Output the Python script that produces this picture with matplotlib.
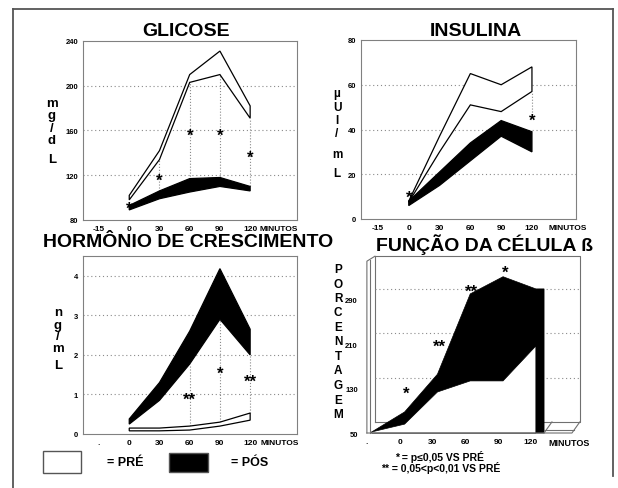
import numpy as np
import matplotlib
matplotlib.use('Agg')
import matplotlib.pyplot as plt
from matplotlib.lines import Line2D
from matplotlib.patches import Rectangle

plt.rcParams['font.family'] = ['Liberation Sans', 'DejaVu Sans']
plt.rcParams['font.weight'] = 'bold'

W, H = 618, 489

# eixo x categorico: -15, 0, 30, 60, 90, 120 min
tempos = ['-15', '0', '30', '60', '90', '120']
tempos_b = ['.', '0', '30', '60', '90', '120']
idx = np.arange(1, 6)

# GLICOSE mg/dL (0..120 min)
glic_pre_sup = [102, 142, 210, 231, 182]
glic_pre_inf = [98, 134, 203, 210, 171]
glic_pos_sup = [93, 106, 117, 118, 110]
glic_pos_inf = [89, 99, 105, 110, 106]
glic_sig = [95, 120, 160, 160, 141]
glic_sig_txt = ['*', '*', '*', '*', '*']

# INSULINA uUI/mL
ins_pre_sup = [8, 37, 65, 60, 68]
ins_pre_inf = [7.5, 30, 51, 48, 57]
ins_pos_sup = [8, 21, 34, 44, 39]
ins_pos_inf = [6, 15, 26, 37, 30]
ins_sig_t = [1, 5]
ins_sig = [12, 46.5]

# HORMONIO DE CRESCIMENTO ng/mL
gh_pre_sup = [0.15, 0.15, 0.2, 0.3, 0.53]
gh_pre_inf = [0.08, 0.08, 0.1, 0.2, 0.35]
gh_pos_sup = [0.38, 1.3, 2.6, 4.18, 2.65]
gh_pos_inf = [0.25, 0.85, 1.77, 2.9, 2.0]
gh_sig_t = [3, 4, 5]
gh_sig = [1.0, 1.67, 1.47]
gh_sig_txt = ['**', '*', '**']

# FUNCAO DA CELULA B, porcentagem (-15..120 min)
beta_pre = [52, 66, 124, 144, 144, 207]
beta_pos = [52, 88, 156, 301, 332, 310]
beta_sig_t = [1, 2, 3, 4]
beta_sig = [131, 216, 315, 350]
beta_sig_txt = ['*', '**', '**', '*']

GRID = dict(color='#8a8a8a', ls=(0, (1, 2.5)), lw=0.8)


def rect_px(l, t, r, b):
    return [l / W, 1 - b / H, (r - l) / W, (b - t) / H]


def fpx(x, y):
    return x / W, 1 - y / H


def estrela(ax, x, y, s, fs=12):
    ax.annotate(s, xy=(x, y), xytext=(0, -0.58 * fs), textcoords='offset points',
                ha='center', va='baseline', fontsize=fs, zorder=5)


def painel(rect, xlim, ylim, yticks, xlab, x_min):
    ax = fig.add_axes(rect)
    ax.set_xlim(*xlim)
    ax.set_ylim(*ylim)
    ax.set_xticks(range(6))
    ax.set_xticklabels(xlab, fontsize=6, fontweight='bold')
    ax.set_yticks(yticks)
    ax.set_yticklabels([str(t) for t in yticks], fontsize=5.5, fontweight='bold')
    ax.tick_params(length=0, pad=3.5)
    for s in ax.spines.values():
        s.set_color('#808080')
        s.set_linewidth(0.8)
    for t in yticks[1:-1]:
        ax.axhline(t, zorder=0.5, **GRID)
    ax.annotate('MINUTOS', xy=(x_min, 0), xycoords=('data', 'axes fraction'),
                xytext=(0, -3.5), textcoords='offset points', ha='left', va='top',
                fontsize=6)
    return ax


def faixa(ax, x, sup, inf, cor):
    xs = list(x) + list(x)[::-1]
    ys = list(sup) + list(inf)[::-1]
    ax.fill(xs, ys, facecolor=cor, edgecolor='black', lw=0.9, zorder=2)


fig = plt.figure(figsize=(W / 100, H / 100), dpi=100)
fig.patch.set_facecolor('white')

# moldura
for (x1, y1, x2, y2) in [(13, 10, 613, 10), (13, 10, 13, 489), (613, 10, 613, 477)]:
    a, b = fpx(x1, y1)
    c, d = fpx(x2, y2)
    fig.add_artist(Line2D([a, c], [b, d], transform=fig.transFigure, color='#555555', lw=1.3))

# ---------- GLICOSE ----------
ax1 = painel(rect_px(83, 42, 297, 221), (-0.53, 6.55), (80, 240), [80, 120, 160, 200, 240],
             tempos, 5.3)
faixa(ax1, idx, glic_pre_sup, glic_pre_inf, 'white')
faixa(ax1, idx, glic_pos_sup, glic_pos_inf, 'black')
ax1.vlines(idx[1:], np.array(glic_pos_sup[1:]), np.array(glic_pre_inf[1:]),
           colors=GRID['color'], lw=0.8, linestyles=':', zorder=1)
for t, v, s in zip(idx, glic_sig, glic_sig_txt):
    estrela(ax1, t, v, s)
fig.text(*fpx(186, 31), 'GLICOSE', ha='center', va='center', fontsize=14, fontweight='bold')
for ch, y in zip(['m', 'g', '/', 'd', 'L'], [104, 116, 129, 141, 160]):
    fig.text(*fpx(52, y), ch, ha='center', va='center', fontsize=9.5, fontweight='bold')

# ---------- INSULINA ----------
ax2 = painel(rect_px(361, 41, 576, 220), (-0.55, 6.43), (0, 80), [0, 20, 40, 60, 80],
             tempos, 5.55)
faixa(ax2, idx, ins_pre_sup, ins_pre_inf, 'white')
faixa(ax2, idx, ins_pos_sup, ins_pos_inf, 'black')
ax2.vlines([idx[-1]], [ins_sig[-1]], [ins_pre_inf[-1]], colors=GRID['color'], lw=0.8,
           linestyles=':')
for t, v in zip(ins_sig_t, ins_sig):
    estrela(ax2, t, v, '*')
fig.text(*fpx(476, 31), 'INSULINA', ha='center', va='center', fontsize=14, fontweight='bold')
for ch, y in zip(['µ', 'U', 'I', '/', 'm', 'L'], [94, 108, 121, 134, 155, 174]):
    fig.text(*fpx(337, y), ch, ha='center', va='center', fontsize=8.5, fontweight='bold')

# ---------- HORMONIO DE CRESCIMENTO ----------
ax3 = painel(rect_px(83, 257, 297, 435), (-0.53, 6.55), (0, 4.5), [0, 1, 2, 3, 4],
             tempos_b, 5.35)
ax3.axhline(4, zorder=0.5, **GRID)
faixa(ax3, idx, gh_pre_sup, gh_pre_inf, 'white')
faixa(ax3, idx, gh_pos_sup, gh_pos_inf, 'black')
ax3.vlines(idx[2:], np.array(gh_pre_sup[2:]), np.array(gh_pos_inf[2:]),
           colors=GRID['color'], lw=0.8, linestyles=':', zorder=1)
for t, v, s in zip(gh_sig_t, gh_sig, gh_sig_txt):
    estrela(ax3, t, v, s)
fig.text(*fpx(188, 243), 'HORMÔNIO DE CRESCIMENTO', ha='center', va='center',
         fontsize=14, fontweight='bold')
for ch, y in zip(['n', 'g', '/', 'm', 'L'], [313, 326, 337, 349, 366]):
    fig.text(*fpx(58, y), ch, ha='center', va='center', fontsize=9.5, fontweight='bold')

# legenda
for (l, t, r, b, cor) in [(43, 452, 81, 474, 'white'), (169, 454, 208, 473, 'black')]:
    x0, y0 = fpx(l, b)
    fig.add_artist(Rectangle((x0, y0), (r - l) / W, (b - t) / H, transform=fig.transFigure,
                             facecolor=cor, edgecolor='#555555', lw=1.0))
fig.text(*fpx(107, 463), '= PRÉ', ha='left', va='center', fontsize=9, fontweight='bold')
fig.text(*fpx(231, 463), '= PÓS', ha='left', va='center', fontsize=9, fontweight='bold')

# ---------- FUNCAO DA CELULA B (pseudo 3D) ----------
ax4 = fig.add_axes(rect_px(360, 250, 590, 437))
ax4.set_xlim(-0.21, 6.8)
ax4.set_ylim(44.6, 382)
for s in ax4.spines.values():
    s.set_visible(False)
ax4.set_xticks(range(6))
ax4.set_xticklabels(tempos_b, fontsize=6, fontweight='bold')
ax4.set_yticks([50, 130, 210, 290])
ax4.set_yticklabels(['50', '130', '210', '290'], fontsize=5.5, fontweight='bold')
ax4.tick_params(length=0, pad=1.5)
ax4.annotate('MINUTOS', xy=(5.52, 0), xycoords=('data', 'axes fraction'),
             xytext=(0, -1.5), textcoords='offset points', ha='left', va='top', fontsize=6.5)

dx, dy = 0.245, 20
topo, xr = 369, 6.49
lc = dict(color='#707070', lw=0.8)
ax4.plot([dx, dx, xr, xr, dx], [50 + dy, topo, topo, 50 + dy, 50 + dy], zorder=1, **lc)
ax4.plot([0, 0, dx], [50, 360, topo], zorder=1, **lc)
ax4.plot([0.1, 0.1], [50, 362], zorder=1, **lc)
ax4.plot([0, 6.25, xr], [50, 50, 50 + dy], zorder=3, **lc)
ax4.plot([5.4, 5.64], [50, 50 + dy], zorder=3, **lc)
ax4.plot([5.4, 6.3], [56, 56], zorder=3, **lc)
for g in [130, 210, 290]:
    ax4.plot([dx, xr], [g + dy, g + dy], zorder=1, **GRID)

xb = np.arange(6) + 0.15
ax4.fill(list(xb) + [5.4, 5.4, xb[0]], beta_pos + [beta_pos[-1], 50, 50],
         facecolor='black', edgecolor='black', lw=0.5, zorder=2)
ax4.fill(list(xb) + [xb[-1], xb[0]], beta_pre + [50, 50],
         facecolor='white', edgecolor='black', lw=0.5, zorder=2.5)
for t, v, s in zip(beta_sig_t, beta_sig, beta_sig_txt):
    estrela(ax4, t + 0.2, v, s)
fig.text(*fpx(485, 245), 'FUNÇÃO DA CÉLULA ß', ha='center', va='center',
         fontsize=14, fontweight='bold')
for i, ch in enumerate('PORCENTAGEM'):
    fig.text(*fpx(338, 270 + 14.5 * i), ch, ha='center', va='center', fontsize=8.5,
             fontweight='bold')

fig.text(*fpx(395, 457), '* = p≤0,05 VS PRÉ', ha='left', va='center', fontsize=7.5,
         fontweight='bold')
fig.text(*fpx(381, 468), '** = 0,05<p<0,01 VS PRÉ', ha='left', va='center', fontsize=7.5,
         fontweight='bold')

fig.savefig('out.png', dpi=100)
